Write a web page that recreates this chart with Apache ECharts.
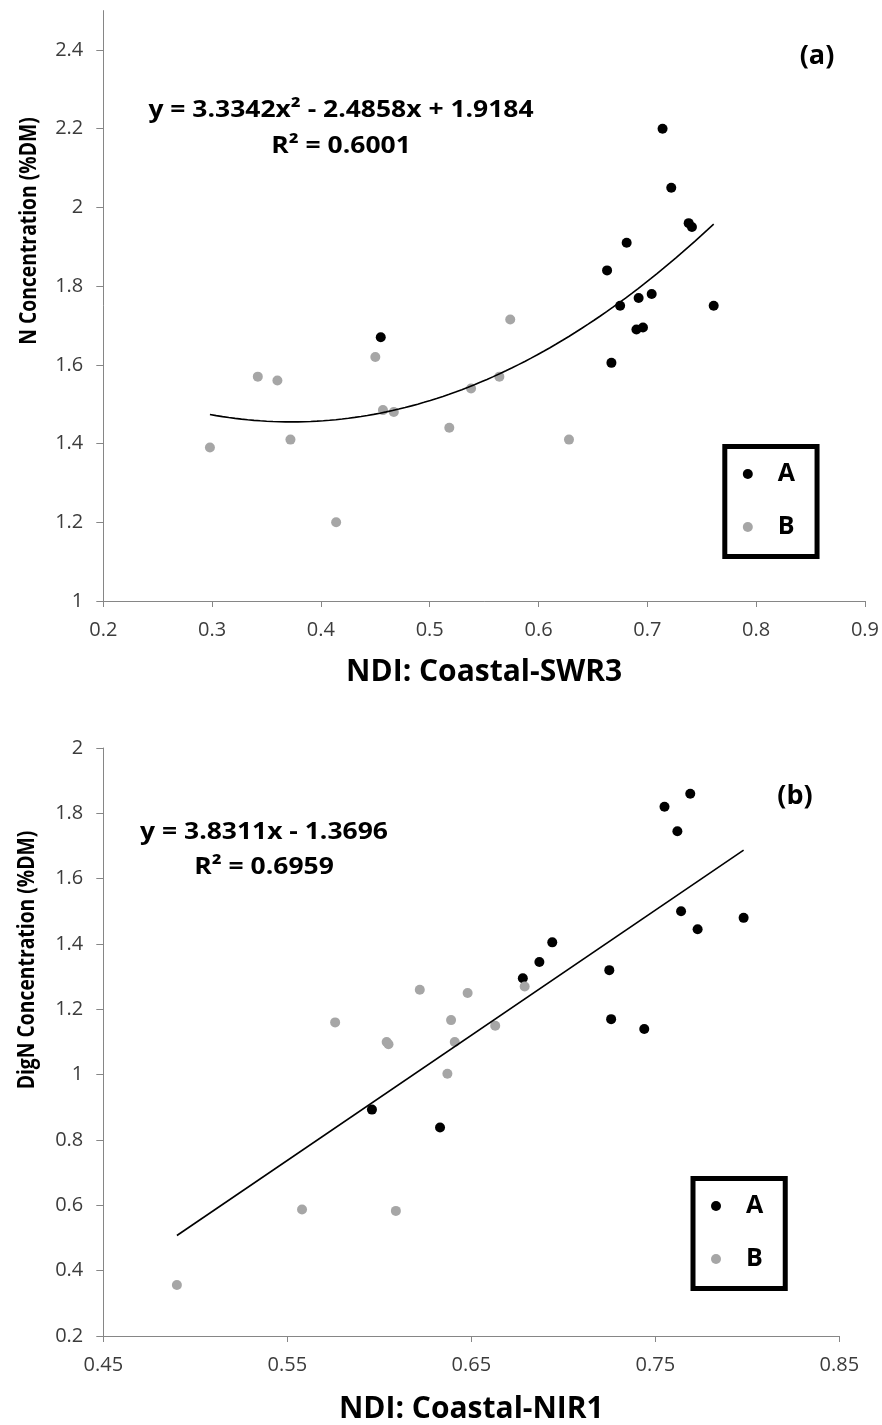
<!DOCTYPE html>
<html>
<head>
<meta charset="utf-8">
<script src="https://cdn.jsdelivr.net/npm/echarts@6/dist/echarts.min.js"></script>
<style>
  html, body { margin: 0; padding: 0; background: #ffffff; }
  #chart { width: 882px; height: 1425px; }
</style>
</head>
<body>
<div id="chart"></div>
<script>
// ---- Panel (a): N concentration vs NDI Coastal-SWR3 ----
const panelA_A = [
  [0.714, 2.20], [0.722, 2.05], [0.738, 1.96], [0.741, 1.95], [0.681, 1.91],
  [0.663, 1.84], [0.675, 1.75], [0.692, 1.77], [0.704, 1.78], [0.761, 1.75],
  [0.690, 1.69], [0.696, 1.695], [0.667, 1.605], [0.455, 1.67]
];
const panelA_B = [
  [0.574, 1.715], [0.450, 1.62], [0.342, 1.57], [0.360, 1.56], [0.564, 1.57],
  [0.538, 1.54], [0.457, 1.485], [0.467, 1.48], [0.518, 1.44], [0.628, 1.41],
  [0.372, 1.41], [0.298, 1.39], [0.414, 1.20]
];
const fitA = [3.3342, -2.4858, 1.9184];   // y = a*x^2 + b*x + c
const r2A = 0.6001;
const xTicksA = [0.2, 0.3, 0.4, 0.5, 0.6, 0.7, 0.8, 0.9];
const yTicksA = [1, 1.2, 1.4, 1.6, 1.8, 2, 2.2, 2.4];

// ---- Panel (b): DigN concentration vs NDI Coastal-NIR1 ----
const panelB_A = [
  [0.769, 1.86], [0.755, 1.82], [0.762, 1.745], [0.764, 1.50], [0.773, 1.445],
  [0.798, 1.48], [0.694, 1.405], [0.687, 1.345], [0.678, 1.295], [0.725, 1.32],
  [0.726, 1.17], [0.744, 1.14], [0.596, 0.893], [0.633, 0.838]
];
const panelB_B = [
  [0.622, 1.26], [0.648, 1.25], [0.679, 1.27], [0.576, 1.16], [0.639, 1.167],
  [0.663, 1.15], [0.604, 1.10], [0.605, 1.093], [0.641, 1.10], [0.637, 1.003],
  [0.558, 0.587], [0.609, 0.583], [0.490, 0.356]
];
const fitB = [3.8311, -1.3696];           // y = m*x + k
const r2B = 0.6959;
const xTicksB = [0.45, 0.55, 0.65, 0.75, 0.85];
const yTicksB = [0.2, 0.4, 0.6, 0.8, 1, 1.2, 1.4, 1.6, 1.8, 2];

const BLACK = '#000000';
const GREY = '#a6a6a6';
const AXIS = '#868686';
const LABEL = '#3c3c3c';
const FONT = '"Open Sans", "DejaVu Sans", sans-serif';

function xRange(...sets) {
  const xs = sets.flat().map(p => p[0]);
  return [Math.min(...xs), Math.max(...xs)];
}

// quadratic trend line sampled across the data range of panel (a)
function quadCurve(c, range, n) {
  const pts = [];
  for (let i = 0; i <= n; i++) {
    const x = range[0] + (range[1] - range[0]) * i / n;
    pts.push([x, c[0] * x * x + c[1] * x + c[2]]);
  }
  return pts;
}
function linLine(c, range) {
  return range.map(x => [x, c[0] * x + c[1]]);
}

const rangeA = xRange(panelA_A, panelA_B);
const rangeB = xRange(panelB_A, panelB_B);

const sign = v => (v < 0 ? ' - ' : ' + ');
const eqA = 'y = ' + fitA[0] + 'x²' + sign(fitA[1]) + Math.abs(fitA[1]) + 'x' + sign(fitA[2]) + Math.abs(fitA[2]);
const eqB = 'y = ' + fitB[0] + 'x' + sign(fitB[1]) + Math.abs(fitB[1]);

function valueAxis(grid, min, max, ticks, isY, name, nameGap) {
  return {
    type: 'value', gridIndex: grid, min: min, max: max,
    splitLine: { show: false },
    axisLine: { show: true, onZero: false, lineStyle: { color: AXIS, width: 1 } },
    axisTick: { show: true, inside: false, length: isY ? 7 : 6, customValues: ticks, lineStyle: { color: AXIS } },
    axisLabel: {
      customValues: ticks, color: LABEL, fontFamily: FONT, fontSize: 20,
      margin: isY ? 20 : 19
    },
    name: name || '', nameLocation: 'middle', nameGap: nameGap || 0,
    nameTextStyle: { fontFamily: FONT, fontWeight: 'bold', fontSize: 30, color: BLACK }
  };
}

function legendBox(left, top) {
  return {
    data: ['A', 'B'], orient: 'vertical', left: left, top: top,
    icon: 'circle', itemWidth: 10, itemHeight: 10, itemGap: 28,
    borderColor: BLACK, borderWidth: 5, padding: [15, 22, 17, 18],
    selectedMode: false,
    textStyle: { fontFamily: FONT, fontWeight: 'bold', fontSize: 25, color: BLACK, padding: [0, 0, 0, 20] }
  };
}

function scatter(name, data, color, xi) {
  return {
    name: name, type: 'scatter', xAxisIndex: xi, yAxisIndex: xi,
    data: data, symbol: 'circle', symbolSize: 10,
    itemStyle: { color: color, opacity: 1 }, z: 3
  };
}

function trend(data, xi) {
  return {
    name: 'trend', type: 'line', xAxisIndex: xi, yAxisIndex: xi,
    data: data, showSymbol: false, smooth: false,
    lineStyle: { color: BLACK, width: 1.6 }, z: 4, silent: true
  };
}

// bold annotation text; sx widens/condenses along the reading direction
function textEl(x, y, txt, size, sx, rot) {
  return {
    type: 'text', x: x, y: y, silent: true,
    rotation: rot || 0, scaleX: sx || 1,
    style: {
      text: txt, fill: BLACK, font: 'bold ' + size + 'px ' + FONT,
      textAlign: 'center', textVerticalAlign: 'middle'
    }
  };
}

const chart = echarts.init(document.getElementById('chart'), null, { renderer: 'canvas' });
chart.setOption({
  backgroundColor: '#ffffff',
  animation: false,
  grid: [
    { left: 103.3, top: 10.6, width: 764.7, height: 590.4 },
    { left: 103.3, top: 748, width: 736, height: 592 }
  ],
  xAxis: [
    valueAxis(0, 0.2, 0.9, xTicksA, false, 'NDI: Coastal-SWR3', 56),
    valueAxis(1, 0.45, 0.85, xTicksB, false, 'NDI: Coastal-NIR1', 58)
  ],
  yAxis: [
    valueAxis(0, 1, 2.5, yTicksA, true),
    valueAxis(1, 0.2, 2, yTicksB, true)
  ],
  legend: [legendBox(724.8, 446.5), legendBox(693, 1178.5)],
  series: [
    scatter('A', panelA_A, BLACK, 0),
    scatter('B', panelA_B, GREY, 0),
    trend(quadCurve(fitA, rangeA, 80), 0),
    scatter('A', panelB_A, BLACK, 1),
    scatter('B', panelB_B, GREY, 1),
    trend(linLine(fitB, rangeB), 1)
  ],
  graphic: [
    textEl(29, 231, 'N Concentration (%DM)', 23, 0.84, Math.PI / 2),
    textEl(27, 960, 'DigN Concentration (%DM)', 23, 0.84, Math.PI / 2),
    textEl(341, 110, eqA, 23, 1.15),
    textEl(341, 146, 'R² = ' + r2A, 23, 1.15),
    textEl(817, 56, '(a)', 27),
    textEl(264, 832, eqB, 23, 1.15),
    textEl(264, 867, 'R² = ' + r2B, 23, 1.15),
    textEl(795, 796, '(b)', 27)
  ]
});
</script>
</body>
</html>
